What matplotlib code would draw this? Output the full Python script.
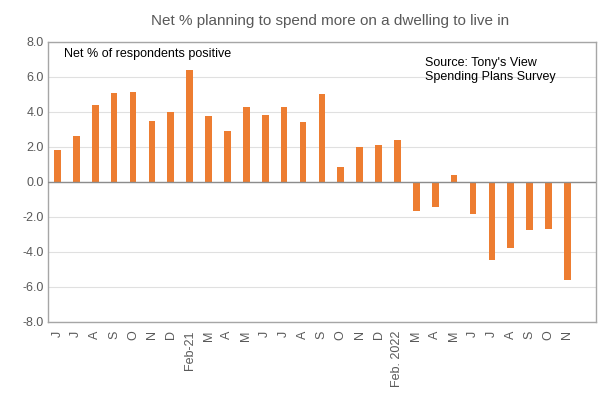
import matplotlib
matplotlib.use("Agg")
import matplotlib.pyplot as plt
import numpy as np

plt.rcParams['font.family'] = ['Liberation Sans', 'DejaVu Sans']

# Data
months = ["J", "J", "A", "S", "O", "N", "D", "Feb-21", "M", "A", "M", "J", "J", "A",
          "S", "O", "N", "D", "Feb. 2022", "M", "A", "M", "J", "J", "A", "S", "O", "N"]
net_pct = [1.85, 2.6, 4.38, 5.08, 5.15, 3.48, 4.02, 6.38, 3.78, 2.9, 4.27, 3.85, 4.27, 3.42,
           5.05, 0.86, 2.0, 2.13, 2.42, -1.68, -1.45, 0.38, -1.85, -4.45, -3.78, -2.77, -2.66, -5.62]

bar_color = "#ED7D31"
text_color = "#595959"

fig = plt.figure(figsize=(6.02, 3.96), dpi=100)
ax = fig.add_axes([0.0797, 0.187, 0.910, 0.707])

x = np.arange(len(months))
ax.bar(x, net_pct, width=0.35, color=bar_color, zorder=3)

ax.set_xlim(-0.5, len(months) + 0.5)
ax.set_ylim(-8, 8)
ax.set_yticks(np.arange(-8, 9, 2))
ax.set_yticklabels([f"{v:.1f}" for v in np.arange(-8, 9, 2)], fontsize=9, color="#595959")
ax.set_xticks(x)
ax.set_xticklabels(months, rotation=90, fontsize=9, color="#595959")
ax.tick_params(axis='y', length=0, pad=3)
ax.tick_params(axis='x', length=0, pad=6)

ax.grid(axis='y', color="#e0e0e0", linewidth=0.8, zorder=0)
ax.axhline(0, color="#8c8c8c", linewidth=1.0, zorder=4)
for s in ax.spines.values():
    s.set_color("#a6a6a6")
    s.set_linewidth(1.0)

fig.text(0.548, 0.947, "Net % planning to spend more on a dwelling to live in",
         ha='center', va='center', fontsize=11, color=text_color)
ax.text(0.03, 0.98, "Net % of respondents positive", transform=ax.transAxes,
        ha='left', va='top', fontsize=9, color="black")
ax.text(0.688, 0.945, "Source: Tony's View\nSpending Plans Survey", transform=ax.transAxes,
        ha='left', va='top', fontsize=9, color="black", linespacing=1.2)

fig.savefig("out.png", dpi=100)
